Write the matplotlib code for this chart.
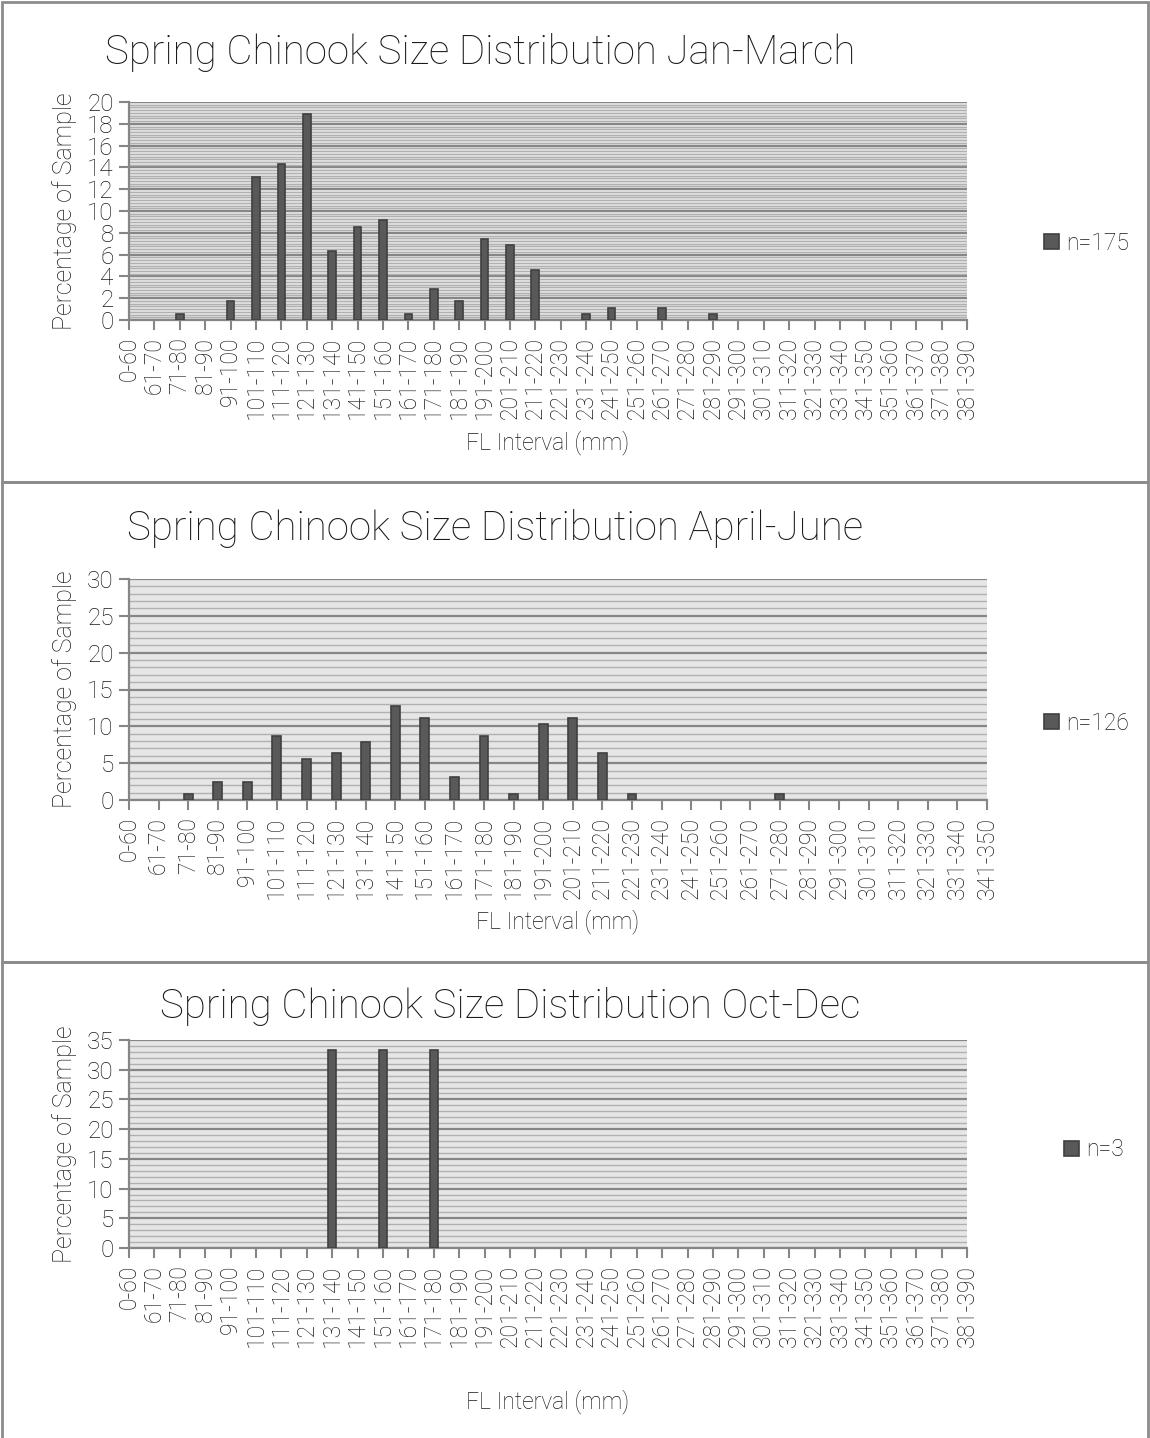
import matplotlib
matplotlib.use("Agg")
import matplotlib.pyplot as plt
from matplotlib.patches import Rectangle
from matplotlib.ticker import MultipleLocator

plt.rcParams["font.family"] = ["Roboto", "DejaVu Sans"]

# category labels (FL interval, mm)
cats_long = ["0-60", "61-70", "71-80", "81-90", "91-100", "101-110", "111-120",
             "121-130", "131-140", "141-150", "151-160", "161-170", "171-180",
             "181-190", "191-200", "201-210", "211-220", "221-230", "231-240",
             "241-250", "251-260", "261-270", "271-280", "281-290", "291-300",
             "301-310", "311-320", "321-330", "331-340", "341-350", "351-360",
             "361-370", "371-380", "381-390"]
cats_short = cats_long[:30]

# percentage of sample
jan_mar = [0, 0, 0.57, 0, 1.71, 13.14, 14.29, 18.86, 6.29, 8.57, 9.14, 0.57,
           2.86, 1.71, 7.43, 6.86, 4.57, 0, 0.57, 1.14, 0, 1.14, 0, 0.57,
           0, 0, 0, 0, 0, 0, 0, 0, 0, 0]
apr_jun = [0, 0, 0.79, 2.38, 2.38, 8.73, 5.56, 6.35, 7.94, 12.70, 11.11, 3.17,
           8.73, 0.79, 10.32, 11.11, 6.35, 0.79, 0, 0, 0, 0, 0.79, 0,
           0, 0, 0, 0, 0, 0]
oct_dec = [0, 0, 0, 0, 0, 0, 0, 0, 33.33, 0, 33.33, 0, 33.33, 0, 0, 0, 0,
           0, 0, 0, 0, 0, 0, 0, 0, 0, 0, 0, 0, 0, 0, 0, 0, 0]

W, H = 1150, 1438
BAR = "#595959"
EDGE = "#404040"
AXC = "#868686"
TXT = "#1a1a1a"
FW = "light"

fig = plt.figure(figsize=(W / 100, H / 100), dpi=100)


def px(x0, y0, x1, y1):
    return [x0 / W, 1 - y1 / H, (x1 - x0) / W, (y1 - y0) / H]


def panel(rect, cats, vals, ymax, ystep, yminor, title, title_xy, legend_label,
          legend_xy, xlabel_y):
    ax = fig.add_axes(px(*rect))
    x = list(range(len(cats)))
    ax.set_facecolor("#e6e6e6")
    # no outline on empty classes
    lws = [1.2 if v > 0 else 0 for v in vals]
    ax.bar(x, vals, width=0.3, color=BAR, edgecolor=EDGE, linewidth=lws,
           zorder=3, label=legend_label)
    ax.set_xlim(0, len(cats) - 1)
    ax.set_ylim(0, ymax)
    ax.yaxis.set_major_locator(MultipleLocator(ystep))
    ax.yaxis.set_minor_locator(MultipleLocator(yminor))
    ax.grid(which="minor", axis="y", color="#b0b0b0", lw=1.0, zorder=1)
    ax.grid(which="major", axis="y", color=AXC, lw=1.6, zorder=2)
    ax.set_xticks(x)
    ax.set_xticklabels(cats, rotation=90, fontsize=16.5, color=TXT,
                       fontweight=FW)
    ax.tick_params(axis="y", labelsize=17.5, colors=TXT, length=7, width=1.5,
                   color=AXC, pad=4)
    ax.tick_params(axis="x", length=7, width=1.5, color=AXC, pad=5)
    ax.tick_params(which="minor", length=0)
    for t in ax.get_yticklabels():
        t.set_fontweight(FW)
    for s in ["top", "right"]:
        ax.spines[s].set_visible(False)
    for s in ["left", "bottom"]:
        ax.spines[s].set_color(AXC)
        ax.spines[s].set_linewidth(1.6)
    ax.set_ylabel("Percentage of Sample", fontsize=18, color=TXT,
                  fontweight=FW, labelpad=7)
    fig.text(title_xy[0] / W, 1 - title_xy[1] / H, title, fontsize=29,
             color=TXT, fontweight=FW, ha="center", va="center")
    cx = (rect[0] + rect[2]) / 2
    fig.text(cx / W, 1 - xlabel_y / H, "FL Interval (mm)", fontsize=16.5,
             color=TXT, fontweight=FW, ha="center", va="center")
    leg = fig.legend(handles=ax.containers[0][2:3], labels=[legend_label],
                     loc="center left",
                     bbox_to_anchor=(legend_xy[0] / W, 1 - legend_xy[1] / H),
                     frameon=False, handlelength=0.65, handleheight=0.65,
                     handletextpad=0.3, borderpad=0, borderaxespad=0,
                     prop={"size": 16.5, "weight": FW})
    for h in leg.legend_handles:
        h.set_linewidth(1.2)
    for t in leg.get_texts():
        t.set_color(TXT)
    return ax


panel((129, 102, 967, 320), cats_long, jan_mar, 20, 2, 0.25,
      "Spring Chinook Size Distribution Jan-March", (480, 52), "n=175",
      (1044, 243), 443)
panel((129, 579, 987, 800), cats_short, apr_jun, 30, 5, 1,
      "Spring Chinook Size Distribution April-June", (495, 528), "n=126",
      (1044, 723), 922)
panel((129, 1040, 967, 1248), cats_long, oct_dec, 35, 5, 1,
      "Spring Chinook Size Distribution Oct-Dec", (510, 1007), "n=3",
      (1064, 1150), 1402)

# chart borders
for y0, y1 in [(2, 482), (482, 962), (962, 1440)]:
    fig.add_artist(Rectangle((1.5 / W, 1 - y1 / H), (1146.5) / W,
                             (y1 - y0) / H, transform=fig.transFigure,
                             fill=False, edgecolor="#8c8c8c", lw=2))

fig.savefig("out.png", dpi=100)
